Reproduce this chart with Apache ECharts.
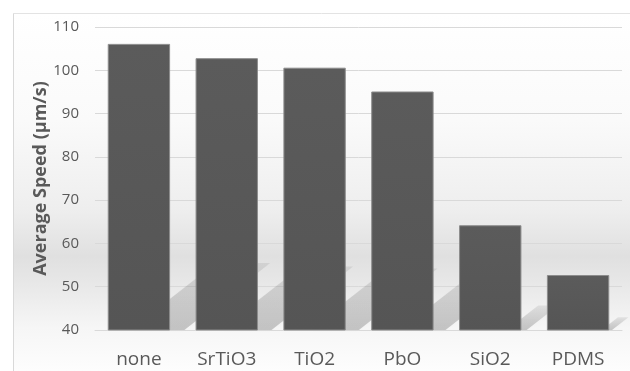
<!DOCTYPE html>
<html>
<head>
<meta charset="utf-8">
<script src="https://cdn.jsdelivr.net/npm/echarts@6/dist/echarts.min.js"></script>
<style>
html,body{margin:0;padding:0;background:#fff;}
#chart{width:630px;height:371px;}
</style>
</head>
<body>
<div id="chart"></div>
<script>
const categories = ['none', 'SrTiO3', 'TiO2', 'PbO', 'SiO2', 'PDMS'];
const speeds = [106.1, 102.8, 100.6, 95.1, 64.2, 52.7];
const yMin = 40, yMax = 110, yStep = 10;
const yTitle = 'Average Speed (µm/s)';

const FONT = '"Open Sans", "Noto Sans", sans-serif';
const TXT = '#595959';
const GAP = 0.29;

const chart = echarts.init(document.getElementById('chart'), null, {renderer: 'canvas'});

function shadowItem(params, api) {
  const i = api.value(0);
  const v = api.value(1);
  const top = api.coord([i, v]);
  const base = api.coord([i, yMin]);
  const bw = api.size([1, 0])[0] * (1 - GAP);
  const xR = top[0] + bw / 2;
  const H = base[1] - top[1];
  const b = base[1];
  const pts = [
    [xR - 0.14 * H, b],
    [xR + 0.05 * H, b],
    [xR + 0.35 * H, b - 0.234 * H],
    [xR + 0.16 * H, b - 0.234 * H]
  ];
  return {
    type: 'polygon',
    shape: {points: pts},
    style: {
      fill: new echarts.graphic.LinearGradient(0, 0, 0, 1, [
        {offset: 0, color: 'rgba(0,0,0,0.07)'},
        {offset: 1, color: 'rgba(0,0,0,0.2)'}
      ]),
      shadowBlur: 3,
      shadowColor: 'rgba(0,0,0,0.08)'
    },
    silent: true
  };
}

const option = {
  animation: false,
  backgroundColor: '#ffffff',
  graphic: [
    {
      type: 'rect', z: -10, silent: true,
      shape: {x: 13, y: 13, width: 617, height: 358},
      style: {
        fill: new echarts.graphic.LinearGradient(0, 0, 0, 1, [
          {offset: 0, color: '#ffffff'},
          {offset: 0.3, color: '#fafafa'},
          {offset: 0.55, color: '#eeeeee'},
          {offset: 0.68, color: '#e0e0e0'},
          {offset: 0.74, color: '#e6e6e6'},
          {offset: 0.88, color: '#f6f6f6'},
          {offset: 1, color: '#fdfdfd'}
        ])
      }
    },
    {type: 'line', z: -5, silent: true, shape: {x1: 13.5, y1: 13, x2: 13.5, y2: 371}, style: {stroke: '#d9d9d9', lineWidth: 1}},
    {type: 'line', z: -5, silent: true, shape: {x1: 13, y1: 13.5, x2: 630, y2: 13.5}, style: {stroke: '#e3e3e3', lineWidth: 1}}
  ],
  grid: {left: 95, right: 8, top: 27, bottom: 41, containLabel: false},
  xAxis: {
    type: 'category',
    data: categories,
    axisLine: {show: true, lineStyle: {color: '#d9d9d9', width: 1}},
    axisTick: {show: false},
    axisLabel: {color: TXT, fontSize: 19, fontFamily: FONT, margin: 20}
  },
  yAxis: {
    type: 'value',
    min: yMin, max: yMax, interval: yStep,
    name: yTitle,
    nameLocation: 'middle',
    nameGap: 45,
    nameMoveOverlap: false,
    nameTextStyle: {color: TXT, fontSize: 18, fontWeight: 'bold', fontFamily: FONT},
    axisLine: {show: false},
    axisTick: {show: false},
    axisLabel: {color: TXT, fontSize: 15, fontFamily: FONT, margin: 16},
    splitLine: {lineStyle: {color: '#d9d9d9', width: 1}}
  },
  series: [
    {
      type: 'custom',
      renderItem: shadowItem,
      data: speeds.map((v, i) => [i, v]),
      z: 1,
      silent: true
    },
    {
      type: 'bar',
      data: speeds,
      barCategoryGap: (GAP * 100) + '%',
      z: 3,
      itemStyle: {
        color: new echarts.graphic.LinearGradient(0, 0, 0, 1, [
          {offset: 0, color: '#5b5b5b'},
          {offset: 1, color: '#555555'}
        ]),
        borderColor: '#8c8c8c',
        borderWidth: 1
      }
    }
  ]
};
chart.setOption(option);
</script>
</body>
</html>
